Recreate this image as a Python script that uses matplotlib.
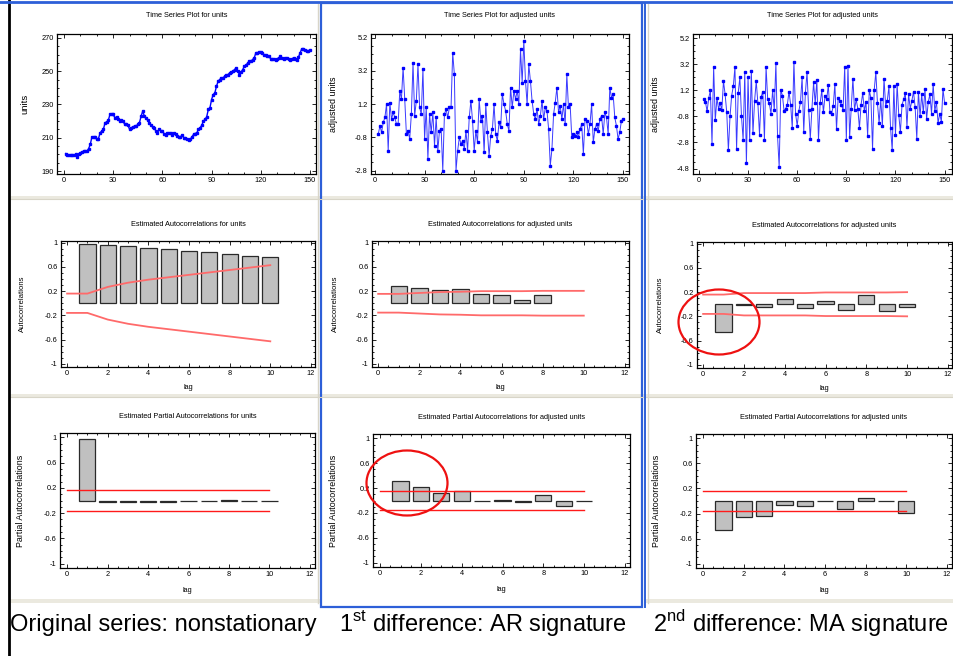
import numpy as np
import matplotlib
matplotlib.use("Agg")
import matplotlib.pyplot as plt
from matplotlib.ticker import FixedLocator, FuncFormatter
from matplotlib.patches import Ellipse, Rectangle

plt.rcParams['font.family'] = ['Liberation Sans', 'DejaVu Sans']
plt.rcParams['mathtext.fontset'] = 'custom'
plt.rcParams['mathtext.rm'] = 'Liberation Sans'

# ---------------- data ----------------
units = [200.5, 199.5, 199.5, 199.5, 199.5, 199.5, 200, 198.5, 200, 201,
         201.5, 202, 202, 202, 203.5, 206, 210.5, 210.5, 210.5, 209,
         209.5, 213, 214, 215, 219, 219.5, 220.5, 224, 224, 224,
         222, 222.5, 221, 220, 220.5, 220, 218, 218, 217.5, 215,
         216, 216.5, 217, 217, 218, 219, 223, 226, 223, 222,
         220.5, 219, 217.5, 216.5, 216, 214, 213, 215, 214, 214,
         212.5, 211.5, 213, 213, 213, 211.5, 213, 212.5, 211, 210.5,
         210.5, 211.5, 210, 210, 209, 208.5, 209, 210.5, 212, 212.5,
         213, 215, 216, 217.5, 220, 221, 222.5, 227, 228, 233,
         236, 237, 241, 244, 245, 246, 246, 247, 247.5, 248,
         249, 249.5, 250, 251, 252, 250, 248, 249.5, 251, 253,
         253.5, 255, 256, 256, 257, 258, 261, 261, 261.5, 261.5,
         261, 260, 259.5, 259, 259, 257.5, 257.5, 257.5, 257, 257.5,
         258, 259, 258, 257.5, 258, 258, 257.5, 257, 257.5, 258,
         257.5, 257, 258.5, 261, 263.5, 263.5, 263, 262, 262, 262.5]

adjusted1 = [-0.6, -0.1, -0.5, 0.1, 0.4, 1.2, -1.6, 1.3, 0.3, 0.7,
             0.4, 0.0, 0.0, 2.0, 1.5, 3.4, 1.5, -0.6, -0.4, -0.9,
             0.6, 3.7, 0.5, 1.4, 3.6, 1.0, 0.6, 3.3, -0.9, 1.0,
             -2.1, 0.6, -0.5, 0.7, -1.3, 0.4, -1.6, -0.4, -0.3, -2.8,
             0.6, 0.9, 0.4, 1.0, 1.0, 4.3, 3.0, -2.8, -1.6, -0.8,
             -1.2, -1.0, -1.5, -0.4, -1.6, 0.4, 1.4, 0.2, -1.6, -0.4,
             -1.1, 1.5, 0.2, 0.5, -1.7, 1.2, -0.5, -1.9, -0.7, -0.3,
             1.2, -0.6, -1.0, 0.1, -0.2, 1.8, 1.2, 0.8, 0.0, -0.4,
             2.2, 1.0, 2.0, 1.5, 2.0, 1.2, 4.5, 2.5, 5.0, 2.6,
             1.2, 3.6, 2.6, 1.4, 0.6, 0.3, 0.9, 0.0, 0.5, 1.4,
             0.3, 1.0, 0.8, -0.3, -2.5, -1.5, 0.6, 1.3, 2.2, 0.7,
             1.1, 0.3, 1.2, 0.0, 3.0, 1.0, 1.2, -0.8, -0.6, -0.7,
             -0.5, -0.8, -0.3, 0.0, -1.8, 0.3, 0.2, -0.6, 0.0, 1.2,
             -1.1, -0.3, 0.0, -0.4, 0.3, 0.5, -0.6, 0.7, 0.4, -0.6,
             2.2, 1.6, 1.8, 0.4, -0.1, -0.9, -0.5, 0.2, 0.3]

adjusted2 = [0.5, 0.3, -0.4, 0.6, 1.2, -2.9, 3.0, -1.1, 0.6, -0.2,
             0.2, -0.3, 1.9, 0.9, -0.5, -3.4, -0.8, 0.8, 1.5, 3.0,
             -3.3, 1.0, 2.2, -0.8, -2.6, 2.6, -4.4, 2.2, -2.6, 2.7,
             -2.1, 0.4, 1.9, 0.2, -2.2, 0.7, 1.1, -2.6, 3.0, 0.5,
             0.2, -0.6, 1.2, -0.3, 3.3, -2.3, -4.7, 1.2, 0.8, -0.4,
             -0.2, 0.1, 1.1, 0.1, -1.7, 3.4, -0.6, -1.5, -0.4, 0.3,
             2.2, -2.0, 1.0, 2.6, -0.3, -2.5, -0.2, 1.8, 0.2, 2.0,
             -2.6, 0.2, 1.2, -0.5, 0.8, 0.5, 1.6, -0.5, -0.6, 0.0,
             1.7, -1.8, 0.6, 0.4, 0.1, -0.3, 3.0, -2.6, 3.1, -2.4,
             -0.2, 2.1, -0.3, 0.5, -0.2, -1.7, 0.1, 1.0, -0.4, 0.3,
             -2.3, 1.2, 0.6, -3.3, 1.2, 2.6, 0.2, -1.3, 0.5, -1.5,
             2.1, 0.0, 0.4, 1.5, -1.7, -3.4, 1.5, -2.2, 1.7, -0.7,
             -2.0, 0.1, 0.5, 1.0, -1.6, 0.9, -0.2, 0.4, 1.1, -0.1,
             -2.5, 1.1, -0.8, 0.9, -0.5, 1.3, -1.0, 0.3, 0.9, -0.6,
             1.7, -0.4, 0.3, -1.3, -0.6, -1.2, 1.3, 0.2]

band_lags = list(range(0, 11))

acf_lags_units = list(range(1, 11))
acf_units = [0.98, 0.96, 0.94, 0.91, 0.89, 0.86, 0.84, 0.81, 0.79, 0.76]
acf_units_band = [0.16, 0.16, 0.27, 0.34, 0.39, 0.43, 0.47, 0.51, 0.55, 0.59, 0.63]

acf_lags_adj1 = list(range(1, 9))
acf_adj1 = [0.29, 0.26, 0.215, 0.24, 0.15, 0.13, 0.055, 0.13]
acf_adj1_band = [0.155, 0.155, 0.17, 0.185, 0.19, 0.20, 0.20, 0.20, 0.205, 0.205, 0.205]

acf_lags_adj2 = list(range(1, 11))
acf_adj2 = [-0.46, -0.01, -0.04, 0.09, -0.06, 0.055, -0.09, 0.16, -0.11, -0.05]
acf_adj2_band = [0.16, 0.16, 0.185, 0.185, 0.185, 0.185, 0.195, 0.195, 0.195, 0.195, 0.20]

pacf_lags = list(range(1, 11))
pacf_units = [0.97, -0.03, -0.02, -0.03, -0.02, 0.0, -0.01, 0.01, 0.0, 0.0]
pacf_adj1 = [0.32, 0.21, 0.115, 0.15, -0.005, 0.01, -0.02, 0.085, -0.095, -0.005]
pacf_adj2 = [-0.46, -0.25, -0.235, -0.06, -0.075, -0.005, -0.125, 0.05, -0.005, -0.19]
pacf_band = [0.16] * 11

captions = ["Original series: nonstationary",
            r"1$^{\mathrm{st}}$ difference: AR signature",
            r"2$^{\mathrm{nd}}$ difference: MA signature"]

# ---------------- figure ----------------
W, H = 954, 656
fig = plt.figure(figsize=(W / 100, H / 100), dpi=100)
fig.patch.set_facecolor('white')


def make_ax(l, t, r, b):
    return fig.add_axes([l / W, 1 - b / H, (r - l) / W, (b - t) / H])


def fmt(v, p):
    return f"{round(v, 6):g}"


def style(ax, xlim, ylim, xmaj, xmin, ymaj, ymin, title, ylabel, xlabel,
          title_pad, ylab_px, xlab_pad, ylab_size):
    ax.set_xlim(*xlim)
    ax.set_ylim(*ylim)
    ax.xaxis.set_major_locator(FixedLocator(xmaj))
    ax.xaxis.set_minor_locator(FixedLocator(xmin))
    ax.yaxis.set_major_locator(FixedLocator(ymaj))
    ax.yaxis.set_minor_locator(FixedLocator(ymin))
    ax.xaxis.set_major_formatter(FuncFormatter(fmt))
    ax.yaxis.set_major_formatter(FuncFormatter(fmt))
    ax.tick_params(which='both', direction='in', top=True, right=True,
                   width=0.6, labelsize=5.3, pad=2.5)
    ax.tick_params(which='major', length=2.8)
    ax.tick_params(which='minor', length=1.5)
    for s in ax.spines.values():
        s.set_linewidth(0.9)
    ax.set_title(title, fontsize=5.3, pad=title_pad)
    bb = ax.get_position()
    wpx = bb.width * W
    ax.set_ylabel(ylabel, fontsize=ylab_size)
    ax.yaxis.set_label_coords(-ylab_px / wpx, 0.5)
    if xlabel:
        ax.set_xlabel(xlabel, fontsize=5.3, labelpad=xlab_pad)


BLUE = '#0000ff'
LBLUE = '#3a3aff'

# ---- row 1: time series ----
t1 = np.arange(1, len(units) + 1)
ax = make_ax(57, 34, 316, 174)
ax.plot(t1, units, color=BLUE, lw=1.0, marker='s', ms=2.0, mec=BLUE, mfc=BLUE)
style(ax, (-4.3, 153.7), (188.2, 272.4), np.arange(0, 151, 30), np.arange(0, 151, 10),
      np.arange(190, 271, 20), np.arange(190, 271, 5),
      "Time Series Plot for units", "units", None, 12, 28, 0, 6.8)

t2 = np.arange(2, 2 + len(adjusted1))
ax = make_ax(371, 34, 629, 174)
ax.plot(t2, adjusted1, color=LBLUE, lw=0.7, marker='s', ms=2.0, mec=BLUE, mfc=BLUE)
style(ax, (-2.4, 153.6), (-3.0, 5.42), np.arange(0, 151, 30), np.arange(0, 151, 10),
      [-2.8, -0.8, 1.2, 3.2, 5.2], np.arange(-2.8, 5.3, 0.5),
      "Time Series Plot for adjusted units", "adjusted units", None, 12, 33, 0, 6.4)

t3 = np.arange(3, 3 + len(adjusted2))
ax = make_ax(693, 34, 952, 174)
ax.plot(t3, adjusted2, color=LBLUE, lw=0.7, marker='s', ms=2.0, mec=BLUE, mfc=BLUE)
style(ax, (-3.6, 154.5), (-5.22, 5.52), np.arange(0, 151, 30), np.arange(0, 151, 10),
      [-4.8, -2.8, -0.8, 1.2, 3.2, 5.2], np.arange(-4.8, 5.3, 0.5),
      "Time Series Plot for adjusted units", "adjusted units", None, 12, 33, 0, 6.4)

# ---- rows 2 & 3: ACF / PACF ----
lag_maj = np.arange(0, 13, 2)
lag_min = np.arange(0, 12.1, 0.5)
r_maj = [-1, -0.6, -0.2, 0.2, 0.6, 1]
r_min = np.arange(-1, 1.01, 0.1)
BAR = '#c0c0c0'
EDGE = '#2a2a2a'
SALMON = '#ff6a6a'
RED = '#ff1a1a'

acf_specs = [
    ((61, 241, 315, 367), acf_lags_units, acf_units, acf_units_band,
     "Estimated Autocorrelations for units", 35),
    ((372, 241, 629, 367), acf_lags_adj1, acf_adj1, acf_adj1_band,
     "Estimated Autocorrelations for adjusted units", 33),
    ((697, 242, 952, 368), acf_lags_adj2, acf_adj2, acf_adj2_band,
     "Estimated Autocorrelations for adjusted units", 33),
]
for box, lg, vals, band, title, ypx in acf_specs:
    ax = make_ax(*box)
    ax.bar(lg, vals, width=0.8, color=BAR, edgecolor=EDGE, lw=0.9, zorder=2)
    ax.plot(band_lags, band, color=SALMON, lw=1.3, zorder=3)
    ax.plot(band_lags, [-b for b in band], color=SALMON, lw=1.3, zorder=3)
    style(ax, (-0.3, 12.2), (-1.055, 1.03), lag_maj, lag_min, r_maj, r_min,
          title, "Autocorrelations", "lag", 11, ypx, 5, 5.6)

pacf_specs = [
    ((60, 433, 315, 568), pacf_units, "Estimated Partial Autocorrelations for units", 35),
    ((373, 434, 630, 567), pacf_adj1, "Estimated Partial Autocorrelations for adjusted units", 35),
    ((696, 434, 952, 568), pacf_adj2, "Estimated Partial Autocorrelations for adjusted units", 35),
]
for box, vals, title, ypx in pacf_specs:
    ax = make_ax(*box)
    ax.bar(pacf_lags, vals, width=0.8, color=BAR, edgecolor=EDGE, lw=0.9, zorder=2)
    ax.plot(band_lags, pacf_band, color=RED, lw=1.0, zorder=3)
    ax.plot(band_lags, [-b for b in pacf_band], color=RED, lw=1.0, zorder=3)
    style(ax, (-0.35, 12.25), (-1.07, 1.07), lag_maj, lag_min, r_maj, r_min,
          title, "Partial Autocorrelations", "lag", 11, ypx, 6, 6.4)

# ---------------- overlay decorations (pixel coordinates) ----------------
ov = fig.add_axes([0, 0, 1, 1], zorder=20)
ov.set_xlim(0, W)
ov.set_ylim(H, 0)
ov.axis('off')
ov.patch.set_alpha(0)

GRAY = '#d8d5c8'
for y in (197.5, 395.5):
    ov.add_patch(Rectangle((10, y - 1.5), W - 10, 3, color='#ebe9df', lw=0))
    ov.plot([10, W], [y + 1.8, y + 1.8], color=GRAY, lw=0.8)
ov.add_patch(Rectangle((10, 599), 310, 4, color='#ebe9df', lw=0))
ov.add_patch(Rectangle((645, 599), W - 645, 4, color='#ebe9df', lw=0))
ov.plot([318, 318], [4, 603], color=GRAY, lw=1.0)
ov.plot([648, 648], [4, 603], color=GRAY, lw=1.0)
ov.plot([9, 9], [0, H], color='black', lw=2.0)
ov.plot([0, W], [1.5, 1.5], color='#2d5fd8', lw=2.0)
ov.add_patch(Rectangle((321, 3), 321, 604, fill=False, ec='#2d5fd8', lw=1.6))
ov.plot([645, 645], [3, 607], color='#2d5fd8', lw=1.4)

ov.add_patch(Ellipse((719, 322), 81, 65, fill=False, ec='#ee1111', lw=1.6))
ov.add_patch(Ellipse((407, 483), 81, 65, fill=False, ec='#ee1111', lw=1.6))

for x, txt in zip((10, 339, 653), captions):
    ov.text(x, 631.5, txt, fontsize=17.0, ha='left', va='baseline', color='black')

fig.savefig("out.png", dpi=100)
